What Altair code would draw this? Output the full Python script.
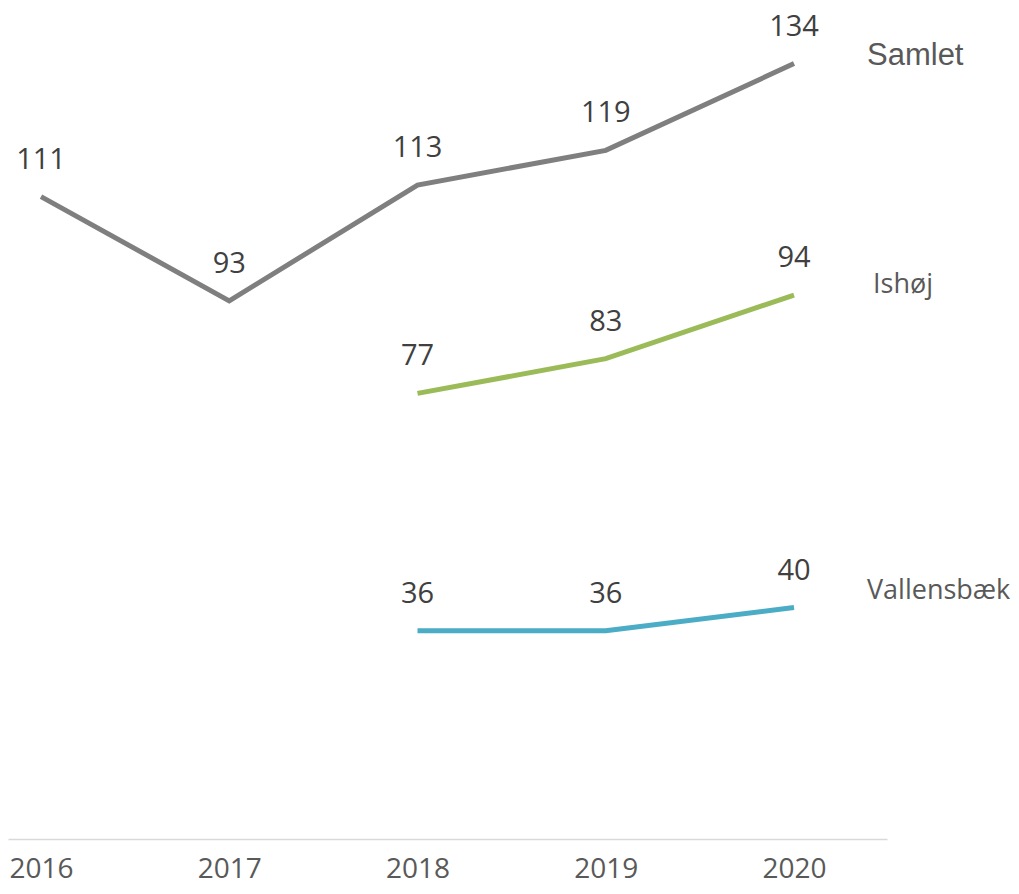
import altair as alt
import pandas as pd

years = [2016, 2017, 2018, 2019, 2020]
samlet = [111, 93, 113, 119, 134]
ishoj_years = [2018, 2019, 2020]
ishoj = [77, 83, 94]
vallensbaek_years = [2018, 2019, 2020]
vallensbaek = [36, 36, 40]

series_names = ["Samlet", "Ishøj", "Vallensbæk"]
series_colors = ["#7f7f7f", "#9bbb59", "#4bacc6"]

rows = []
for y, v in zip(years, samlet):
    rows.append({"year": y, "series": "Samlet", "value": v})
for y, v in zip(ishoj_years, ishoj):
    rows.append({"year": y, "series": "Ishøj", "value": v})
for y, v in zip(vallensbaek_years, vallensbaek):
    rows.append({"year": y, "series": "Vallensbæk", "value": v})
df = pd.DataFrame(rows)

end_labels = pd.DataFrame({
    "series": series_names,
    "year": [2020, 2020, 2020],
    "value": [samlet[-1], ishoj[-1], vallensbaek[-1]],
})

xscale = alt.Scale(domain=[2015.8247, 2020.494], nice=False, zero=False)
yscale = alt.Scale(domain=[0, 143.6], nice=False, zero=True)
color = alt.Color("series:N", scale=alt.Scale(domain=series_names, range=series_colors), legend=None)

base = alt.Chart(df)

lines = base.mark_line(strokeWidth=5, strokeCap="butt", strokeJoin="miter").encode(
    x=alt.X("year:Q", scale=xscale,
            axis=alt.Axis(values=years, format="d", title=None, ticks=False, grid=False,
                          domainColor="#d9d9d9", domainWidth=1.5,
                          labelFont="Open Sans", labelFontSize=28, labelColor="#595959",
                          labelPadding=16)),
    y=alt.Y("value:Q", scale=yscale, axis=None),
    color=color,
    detail="series:N",
)

labels = base.mark_text(font="Open Sans", fontSize=29, color="#404040",
                        baseline="alphabetic", align="center", dy=-28).encode(
    x=alt.X("year:Q", scale=xscale),
    y=alt.Y("value:Q", scale=yscale),
    text=alt.Text("value:Q", format="d"),
)

samlet_lbl = alt.Chart(end_labels[end_labels.series == "Samlet"]).mark_text(
    font="Liberation Sans", fontSize=31, color="#595959", align="left",
    baseline="alphabetic", dx=73, dy=1).encode(
    x=alt.X("year:Q", scale=xscale), y=alt.Y("value:Q", scale=yscale), text="series:N")

ishoj_lbl = alt.Chart(end_labels[end_labels.series == "Ishøj"]).mark_text(
    font="Open Sans", fontSize=27, color="#595959", align="left",
    baseline="alphabetic", dx=79, dy=-2).encode(
    x=alt.X("year:Q", scale=xscale), y=alt.Y("value:Q", scale=yscale), text="series:N")

vall_lbl = alt.Chart(end_labels[end_labels.series == "Vallensbæk"]).mark_text(
    font="Open Sans", fontSize=27, color="#595959", align="left",
    baseline="alphabetic", dx=73, dy=-9).encode(
    x=alt.X("year:Q", scale=xscale), y=alt.Y("value:Q", scale=yscale), text="series:N")

chart = alt.layer(lines, labels, samlet_lbl, ishoj_lbl, vall_lbl).properties(
    width=879, height=831,
    autosize=alt.AutoSizeParams(type="none"),
    padding={"left": 0, "top": 0, "right": 124, "bottom": 47},
    background="white",
).configure_view(strokeWidth=0, stroke=None)

chart.save("out.html", embed_options={"renderer": "svg", "actions": False})
